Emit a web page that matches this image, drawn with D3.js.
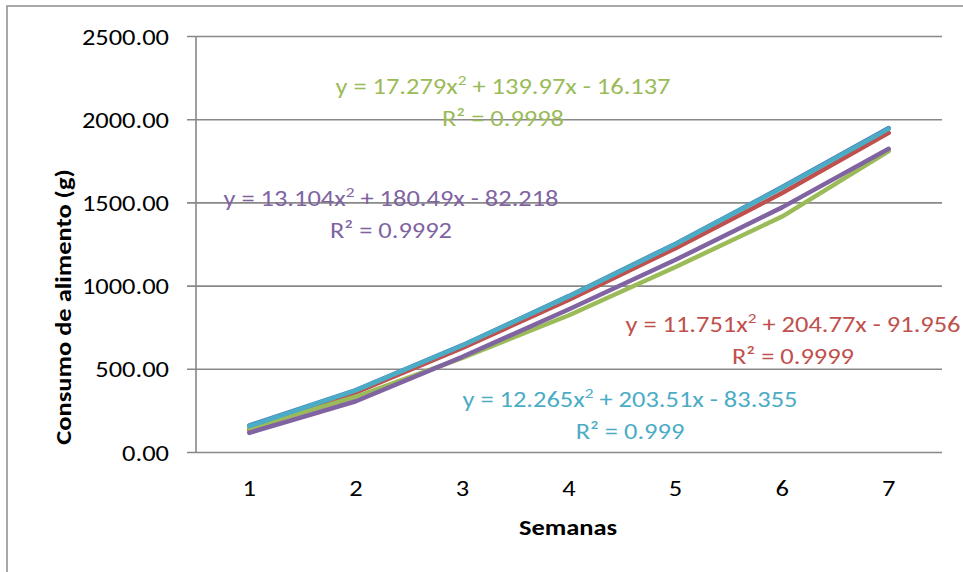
<!DOCTYPE html>
<html>
<head>
<meta charset="utf-8">
<script src="https://cdn.jsdelivr.net/npm/d3@7"></script>
<style>
  html, body { margin: 0; padding: 0; background: #fff; }
  svg { display: block; }
  text { font-family: Carlito, Lato, "Open Sans", sans-serif; }
</style>
</head>
<body>
<svg id="chart" width="963" height="572"></svg>
<script>
// ---- data ----
const weeks = [1, 2, 3, 4, 5, 6, 7];
const yTicks = [0, 500, 1000, 1500, 2000, 2500];
const seriesBlue   = [160, 372, 642, 938, 1252, 1592, 1947];
const seriesRed    = [130, 358, 625, 915, 1225, 1556, 1918];
const seriesGreen  = [142, 332, 565, 822, 1112, 1415, 1808];
const seriesPurple = [115, 305, 572, 858, 1155, 1470, 1822];
const seriesCyan   = [155, 370, 640, 935, 1248, 1588, 1942];
const seriesColors = ["#4F81BD", "#C0504D", "#9BBB59", "#8064A2", "#4BACC6"];
const eqGreen  = ["y = 17.279x", " + 139.97x - 16.137", "R² = 0.9998"];
const eqPurple = ["y = 13.104x", " + 180.49x - 82.218", "R² = 0.9992"];
const eqRed    = ["y = 11.751x", " + 204.77x - 91.956", "R² = 0.9999"];
const eqCyan   = ["y = 12.265x", " + 203.51x - 83.355", "R² = 0.999"];
const yTitle = "Consumo de alimento (g)";
const xTitle = "Semanas";

const svg = d3.select("#chart");
const W = 963, H = 572;
const m = { left: 196, right: 942, top: 36, bottom: 452 };
const FS = 23, STRETCH = 1.15;

function stretch(sel) {
  sel.each(function () {
    const w = this.getComputedTextLength();
    d3.select(this).attr("textLength", w * STRETCH).attr("lengthAdjust", "spacingAndGlyphs");
  });
}

// outer frame
svg.append("rect").attr("x", 7).attr("y", 6).attr("width", W + 10).attr("height", H + 10)
  .attr("fill", "none").attr("stroke", "#8c8c8c").attr("stroke-width", 1.5);

const x = d3.scaleBand().domain(weeks).range([m.left, m.right]).paddingInner(0).paddingOuter(0);
const y = d3.scaleLinear().domain([0, 2500]).range([m.bottom, m.top]);
const xc = d => x(d) + x.bandwidth() / 2;

// grid lines (with outside tick marks)
const yAxis = d3.axisLeft(y).tickValues(yTicks).tickFormat(d3.format(".2f"))
  .tickSize(-(m.right - m.left)).tickPadding(0);
const gy = svg.append("g").attr("transform", `translate(${m.left},0)`).call(yAxis);
gy.select(".domain").remove();
gy.selectAll(".tick line").attr("x1", -9).attr("stroke", "#888").attr("stroke-width", 1.6);
gy.selectAll(".tick text").attr("x", -27).attr("dy", "0.35em")
  .attr("font-size", FS).attr("fill", "#000")
  .style("font-family", "Carlito, Lato, 'Open Sans', sans-serif")
  .call(stretch);
// vertical axis line
svg.append("line").attr("x1", m.left).attr("x2", m.left).attr("y1", m.top).attr("y2", m.bottom)
  .attr("stroke", "#888").attr("stroke-width", 1.6);

// x axis labels
const xAxis = d3.axisBottom(x).tickSize(0).tickPadding(0);
const gx = svg.append("g").attr("transform", `translate(0,${m.bottom})`).call(xAxis);
gx.select(".domain").remove();
gx.selectAll(".tick text").attr("y", 44).attr("dy", 0)
  .attr("font-size", FS).attr("fill", "#000")
  .style("font-family", "Carlito, Lato, 'Open Sans', sans-serif")
  .call(stretch);

// series lines
const allSeries = [seriesBlue, seriesRed, seriesGreen, seriesPurple, seriesCyan];
const line = d3.line().x((d, i) => xc(weeks[i])).y(d => y(d));
allSeries.forEach((s, k) => {
  svg.append("path").datum(s).attr("d", line)
    .attr("fill", "none").attr("stroke", seriesColors[k]).attr("stroke-width", 4.5)
    .attr("stroke-linecap", "round").attr("stroke-linejoin", "round");
});

// trendline equations
function eq(lines, color, cx, by) {
  const t1 = svg.append("text").attr("x", cx).attr("y", by).attr("text-anchor", "middle")
    .attr("fill", color).attr("font-size", FS);
  t1.append("tspan").text(lines[0]);
  t1.append("tspan").attr("dy", -9).attr("font-size", 15).text("2");
  t1.append("tspan").attr("dy", 9).text(lines[1]);
  t1.call(stretch);
  svg.append("text").attr("x", cx).attr("y", by + 32).attr("text-anchor", "middle")
    .attr("fill", color).attr("font-size", FS).text(lines[2]).call(stretch);
}
eq(eqGreen, seriesColors[2], 503, 94);
eq(eqPurple, seriesColors[3], 391, 206);
eq(eqRed, seriesColors[1], 793, 332);
eq(eqCyan, seriesColors[4], 630, 407);

// axis titles
svg.append("text").attr("transform", `translate(71,307) rotate(-90)`)
  .attr("text-anchor", "middle").attr("font-weight", "bold").attr("font-size", FS)
  .attr("fill", "#000").text(yTitle).call(stretch);
svg.append("text").attr("x", 568).attr("y", 535).attr("text-anchor", "middle")
  .attr("font-weight", "bold").attr("font-size", FS).attr("fill", "#000").text(xTitle).call(stretch);
</script>
</body>
</html>
